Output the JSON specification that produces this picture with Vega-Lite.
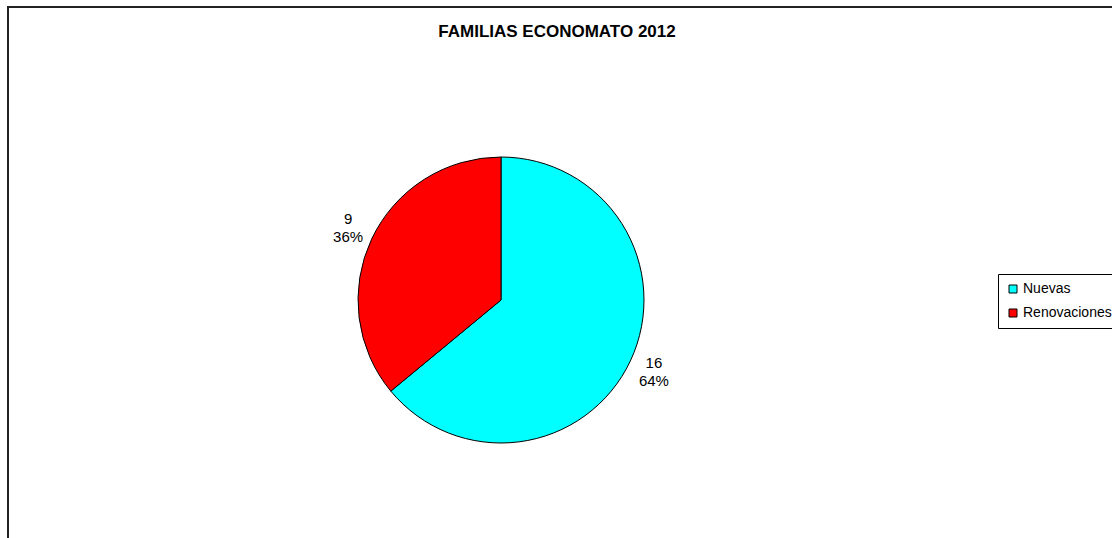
{
  "$schema": "https://vega.github.io/schema/vega-lite/v6.json",
  "autosize": {"type": "none"},
  "padding": {"left": 8, "top": 7, "right": 0, "bottom": 0},
  "width": 1200,
  "height": 600,
  "background": "white",
  "view": {"stroke": "#222222", "strokeWidth": 2, "fill": "white"},
  "title": {
    "text": "FAMILIAS ECONOMATO 2012",
    "font": "Liberation Sans",
    "fontSize": 17,
    "fontWeight": "bold",
    "color": "black",
    "anchor": "middle",
    "frame": "group",
    "baseline": "alphabetic",
    "offset": -47,
    "dx": -51
  },
  "data": {
    "values": [
      {"category": "Nuevas", "value": 16, "label": "16\n64%"},
      {"category": "Renovaciones", "value": 9, "label": "9\n36%"}
    ]
  },
  "encoding": {
    "theta": {"field": "value", "type": "quantitative", "stack": true}
  },
  "layer": [
    {
      "mark": {"type": "arc", "x": 493, "y": 293, "outerRadius": 143, "stroke": "black", "strokeWidth": 1},
      "encoding": {
        "color": {
          "field": "category",
          "type": "nominal",
          "scale": {"domain": ["Nuevas", "Renovaciones"], "range": ["#00FFFF", "#FF0000"]},
          "legend": {
            "title": null,
            "orient": "none",
            "legendX": 990,
            "legendY": 267,
            "strokeColor": "black",
            "padding": 8,
            "rowPadding": 10,
            "symbolType": "square",
            "symbolSize": 64,
            "symbolStrokeColor": "black",
            "symbolStrokeWidth": 1,
            "labelFont": "Liberation Sans",
            "labelFontSize": 14,
            "labelColor": "black",
            "labelOffset": 3
          }
        }
      }
    },
    {
      "mark": {"type": "text", "x": 493, "y": 293, "radius": 169, "dy": -9, "lineBreak": "\n", "font": "Liberation Sans", "fontSize": 15, "lineHeight": 18, "color": "black", "align": "center", "baseline": "middle"},
      "encoding": {
        "detail": {"field": "category", "type": "nominal"},
        "text": {"field": "label", "type": "nominal"}
      }
    }
  ],
  "config": {
    "view": {"stroke": "#222222", "strokeWidth": 2}
  }
}
